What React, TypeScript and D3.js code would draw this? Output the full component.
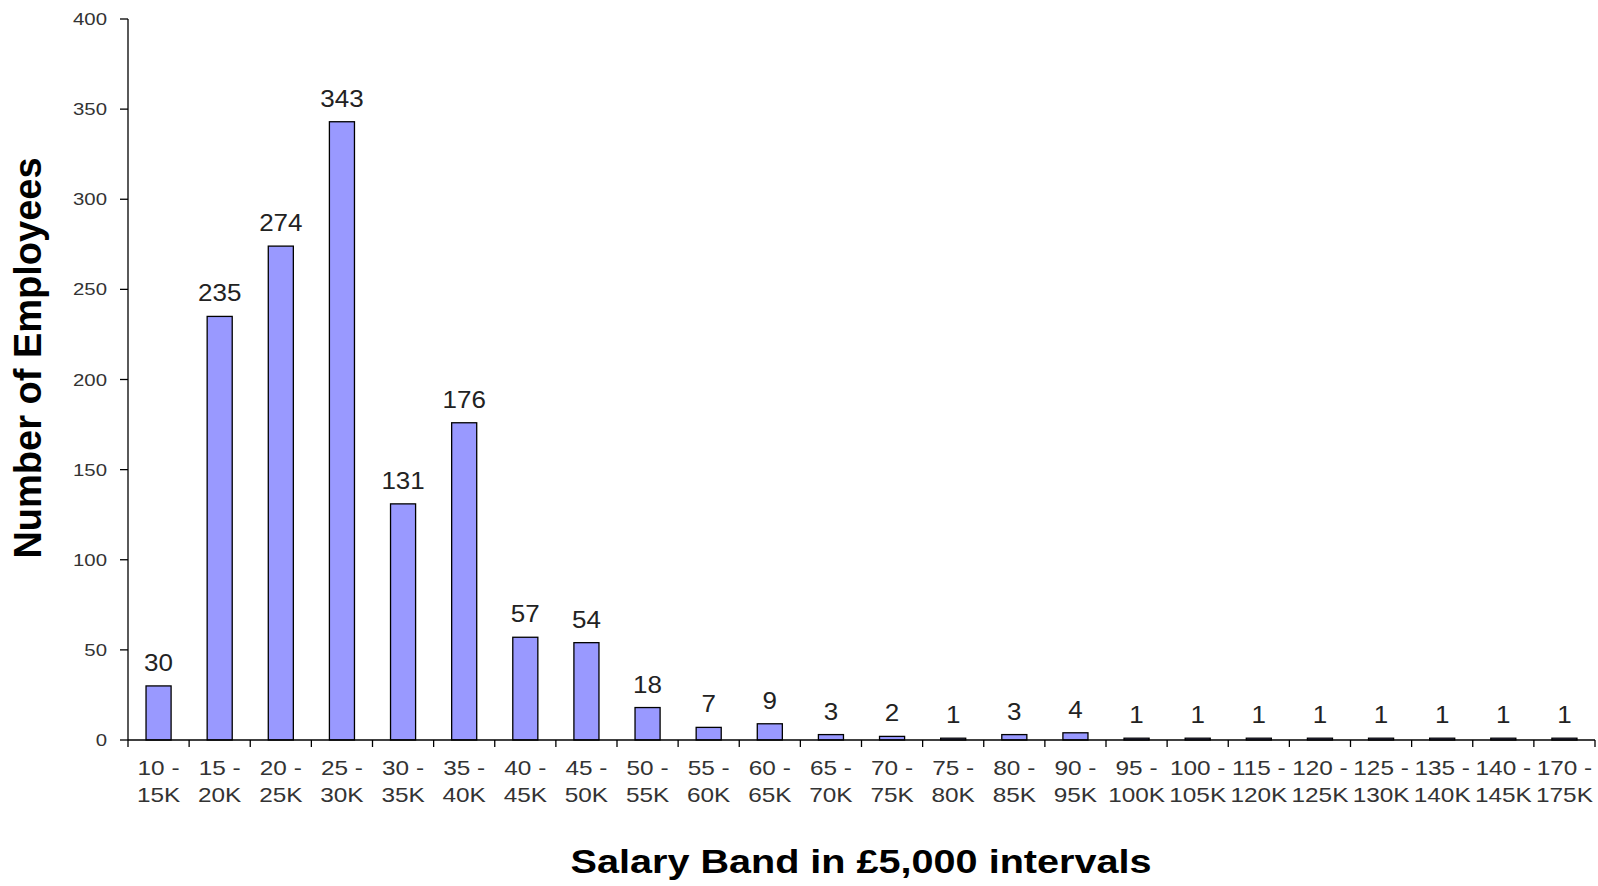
import * as d3 from "d3";

// salary bands (two-line tick labels)
const bandFrom = ["10", "15", "20", "25", "30", "35", "40", "45", "50", "55", "60", "65", "70", "75", "80", "90", "95", "100", "115", "120", "125", "135", "140", "170"];
const bandTo = ["15K", "20K", "25K", "30K", "35K", "40K", "45K", "50K", "55K", "60K", "65K", "70K", "75K", "80K", "85K", "95K", "100K", "105K", "120K", "125K", "130K", "140K", "145K", "175K"];
const employees = [30, 235, 274, 343, 131, 176, 57, 54, 18, 7, 9, 3, 2, 1, 3, 4, 1, 1, 1, 1, 1, 1, 1, 1];
const yTicks = [0, 50, 100, 150, 200, 250, 300, 350, 400];

const W = 1598;
const H = 886;
const FONT = "'Liberation Sans', Arial, sans-serif";
const SX = 1.2; // the source picture is stretched sideways

const left = 128;
const right = 1595;
const top = 19;
const bottom = 740;

const STxt = ({ x, y, size, sx = SX, anchor = "middle", weight = "normal", fill = "#222", children }: any) => (
  <text
    transform={`translate(${x},${y}) scale(${sx},1)`}
    fontSize={size}
    fontWeight={weight}
    textAnchor={anchor}
    fill={fill}
    fontFamily={FONT}
  >
    {children}
  </text>
);

export default function App() {
  const keys = bandFrom.map((d, i) => `${d}-${bandTo[i]}`);
  const x = d3.scaleBand<string>().domain(keys).range([left, right]).padding(0);
  const y = d3.scaleLinear().domain([0, 400]).range([bottom, top]);
  const bw = x.bandwidth();
  const barW = bw * 0.41;

  return (
    <svg
      width={W}
      height={H}
      style={{ position: "absolute", left: 0, top: 0, background: "#fff" }}
    >
      {/* bars */}
      {employees.map((v, i) => {
        const bx = (x(keys[i]) as number) + (bw - barW) / 2;
        return (
          <rect
            key={keys[i]}
            x={bx}
            y={y(v)}
            width={barW}
            height={bottom - y(v)}
            fill="#9999ff"
            stroke="#000"
            strokeWidth={1.3}
          />
        );
      })}

      {/* value labels */}
      {employees.map((v, i) => (
        <STxt key={"v" + i} x={(x(keys[i]) as number) + bw / 2} y={y(v) - 15} size={23} sx={1.13}>
          {v}
        </STxt>
      ))}

      {/* y axis */}
      <line x1={left} x2={left} y1={top} y2={bottom} stroke="#000" strokeWidth={1.3} />
      {yTicks.map((t) => (
        <g key={"y" + t}>
          <line x1={left - 8} x2={left} y1={y(t)} y2={y(t)} stroke="#000" strokeWidth={1.3} />
          <STxt x={left - 21} y={y(t) + 6} size={17} anchor="end" fill="#333">
            {t}
          </STxt>
        </g>
      ))}

      {/* x axis */}
      <line x1={left} x2={right} y1={bottom} y2={bottom} stroke="#000" strokeWidth={1.3} />
      {keys.map((k) => (
        <line
          key={"t" + k}
          x1={x(k) as number}
          x2={x(k) as number}
          y1={bottom}
          y2={bottom + 7}
          stroke="#000"
          strokeWidth={1.3}
        />
      ))}
      <line x1={right} x2={right} y1={bottom} y2={bottom + 7} stroke="#000" strokeWidth={1.3} />
      {keys.map((k, i) => {
        const cx = (x(k) as number) + bw / 2;
        return (
          <g key={"l" + k}>
            <STxt x={cx} y={775} size={21} sx={1.16} fill="#333">
              {bandFrom[i] + " -"}
            </STxt>
            <STxt x={cx} y={802} size={21} sx={1.16} fill="#333">
              {bandTo[i]}
            </STxt>
          </g>
        );
      })}

      {/* axis titles */}
      <STxt x={861} y={873} size={33} weight="bold" fill="#000">
        Salary Band in £5,000 intervals
      </STxt>
      <text
        transform="translate(41,358) rotate(-90)"
        fontSize={38}
        fontWeight="bold"
        textAnchor="middle"
        fontFamily={FONT}
        fill="#000"
      >
        Number of Employees
      </text>
    </svg>
  );
}
